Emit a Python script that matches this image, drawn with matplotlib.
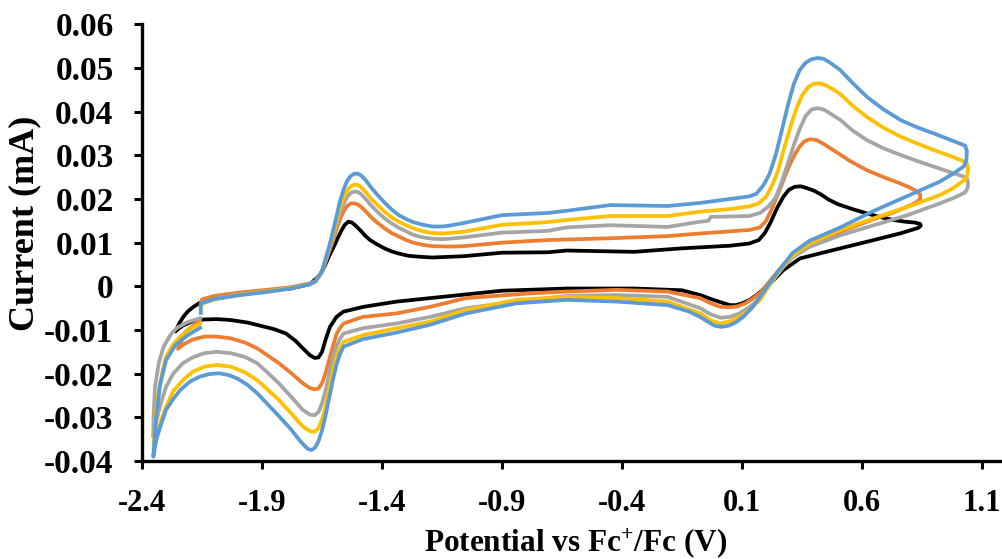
import matplotlib
matplotlib.use("Agg")
import matplotlib.pyplot as plt

# CV scans: potential (V vs Fc+/Fc) and current (mA)
black_v = [-2.26, -2.245, -2.228, -2.21, -2.186, -2.16, -2.13, -2.08, -1.99, -1.88, -1.78, -1.70,
           -1.66, -1.64, -1.62, -1.60, -1.585, -1.57, -1.555, -1.54, -1.525, -1.51, -1.49, -1.47,
           -1.45, -1.42, -1.39, -1.36, -1.33, -1.29, -1.25, -1.19, -1.06, -0.90, -0.71, -0.63,
           -0.35, -0.15, 0.05, 0.13, 0.17, 0.195, 0.217, 0.245, 0.272, 0.295, 0.32, 0.345, 0.37,
           0.40, 0.43, 0.46, 0.50, 0.56, 0.62, 0.68, 0.73, 0.78, 0.82, 0.842, 0.845, 0.835, 0.80,
           0.758, 0.62, 0.48, 0.342, 0.272, 0.24, 0.203, 0.165, 0.133, 0.10, 0.075, 0.05, 0.02,
           -0.019, -0.075, -0.15, -0.35, -0.63, -0.90, -1.20, -1.34, -1.478, -1.561, -1.59,
           -1.617, -1.635, -1.65, -1.665, -1.68, -1.70, -1.73, -1.76, -1.80, -1.85, -1.894, -1.96,
           -2.033, -2.09, -2.144, -2.19, -2.23, -2.26]
black_i = [-0.0102, -0.0085, -0.0070, -0.0058, -0.0047, -0.0038, -0.0031, -0.0023, -0.0016, -0.0010,
           -0.0005, 0.0005, 0.0025, 0.0045, 0.0070, 0.0092, 0.0110, 0.0127, 0.0141, 0.0148, 0.0146,
           0.0139, 0.0128, 0.0116, 0.0106, 0.0096, 0.0087, 0.0080, 0.0075, 0.0070, 0.0068, 0.0066,
           0.0069, 0.0077, 0.0078, 0.0082, 0.0079, 0.0087, 0.0093, 0.0098, 0.0106, 0.0122, 0.0144,
           0.0178, 0.0205, 0.0221, 0.0228, 0.0229, 0.0225, 0.0219, 0.0210, 0.0199, 0.0188, 0.0177,
           0.0167, 0.0158, 0.0152, 0.0148, 0.0146, 0.0143, 0.0139, 0.0134, 0.0128, 0.0121, 0.0102,
           0.0083, 0.0064, 0.0037, 0.0019, 0.0000, -0.0018, -0.0031, -0.0039, -0.0043, -0.0043,
           -0.0038, -0.0031, -0.0020, -0.0009, -0.0005, -0.0005, -0.0010, -0.0027, -0.0035,
           -0.0047, -0.0058, -0.0070, -0.0093, -0.0122, -0.0150, -0.0163, -0.0164, -0.0158,
           -0.0142, -0.0125, -0.0108, -0.0098, -0.0092, -0.0083, -0.0077, -0.0075, -0.0076,
           -0.0080, -0.0090, -0.0102]

orange_v = [-2.155, -2.15, -2.10, -1.99, -1.88, -1.78, -1.71, -1.68, -1.65, -1.62, -1.605, -1.59,
            -1.575, -1.56, -1.545, -1.53, -1.515, -1.50, -1.485, -1.465, -1.445, -1.42, -1.39,
            -1.36, -1.33, -1.30, -1.27, -1.23, -1.19, -1.12, -1.06, -0.90, -0.71, -0.45, -0.21,
            -0.075, 0.13, 0.175, 0.20, 0.22, 0.24, 0.26, 0.28, 0.30, 0.32, 0.34, 0.36, 0.383, 0.41,
            0.44, 0.48, 0.55, 0.62, 0.69, 0.758, 0.80, 0.83, 0.843, 0.842, 0.825, 0.80, 0.72, 0.65,
            0.51, 0.38, 0.31, 0.27, 0.22, 0.175, 0.14, 0.11, 0.08, 0.05, 0.01, -0.03, -0.075, -0.21,
            -0.42, -0.63, -0.78, -1.05, -1.20, -1.34, -1.48, -1.56, -1.575, -1.59, -1.605, -1.62,
            -1.635, -1.65, -1.665, -1.68, -1.70, -1.73, -1.78, -1.83, -1.88, -1.92, -1.97, -2.03,
            -2.09, -2.14, -2.19, -2.23, -2.25, -2.22, -2.16]
orange_i = [-0.0040, -0.0030, -0.0022, -0.0014, -0.0008, -0.0002, 0.0006, 0.0010, 0.0032, 0.0080,
            0.0103, 0.0130, 0.0153, 0.0172, 0.0184, 0.0190, 0.0190, 0.0187, 0.0181, 0.0170, 0.0158,
            0.0146, 0.0133, 0.0122, 0.0114, 0.0106, 0.0100, 0.0095, 0.0092, 0.0091, 0.0092, 0.0100,
            0.0106, 0.0110, 0.0115, 0.0121, 0.0129, 0.0135, 0.0150, 0.0172, 0.0198, 0.0225, 0.0254,
            0.0280, 0.0302, 0.0320, 0.0332, 0.0337, 0.0335, 0.0326, 0.0312, 0.0287, 0.0266, 0.0250,
            0.0236, 0.0226, 0.0217, 0.0210, 0.0200, 0.0192, 0.0185, 0.0167, 0.0154, 0.0125, 0.0095,
            0.0070, 0.0048, 0.0015, -0.0015, -0.0030, -0.0040, -0.0046, -0.0048, -0.0047, -0.0039,
            -0.0027, -0.0012, -0.0008, -0.0012, -0.0016, -0.0027, -0.0047, -0.0062, -0.0070,
            -0.0085, -0.0095, -0.0110, -0.0138, -0.0168, -0.0198, -0.0222, -0.0234, -0.0236,
            -0.0233, -0.0222, -0.0198, -0.0176, -0.0157, -0.0142, -0.0129, -0.0119, -0.0115,
            -0.0115, -0.0122, -0.0134, -0.0143, -0.0105, -0.0078]

gray_v = [-2.155, -2.15, -2.10, -1.99, -1.88, -1.78, -1.71, -1.68, -1.65, -1.62, -1.605, -1.59,
          -1.575, -1.56, -1.545, -1.53, -1.515, -1.50, -1.485, -1.465, -1.445, -1.42, -1.39, -1.36,
          -1.33, -1.30, -1.27, -1.23, -1.19, -1.15, -1.12, -1.06, -0.90, -0.71, -0.63, -0.45, -0.21,
          -0.075, -0.04, -0.03, 0.13, 0.175, 0.21, 0.24, 0.265, 0.29, 0.315, 0.34, 0.365, 0.39,
          0.415, 0.44, 0.47, 0.51, 0.56, 0.62, 0.69, 0.76, 0.83, 0.90, 0.97, 1.036, 1.042, 1.04,
          1.03, 0.98, 0.925, 0.79, 0.65, 0.51, 0.38, 0.31, 0.27, 0.22, 0.175, 0.13, 0.09, 0.05,
          0.01, -0.03, -0.075, -0.21, -0.42, -0.63, -0.84, -1.05, -1.20, -1.34, -1.48, -1.56,
          -1.575, -1.59, -1.605, -1.62, -1.635, -1.65, -1.665, -1.68, -1.70, -1.73, -1.78, -1.83,
          -1.88, -1.92, -1.97, -2.03, -2.09, -2.14, -2.19, -2.23, -2.27, -2.30, -2.32, -2.34,
          -2.353, -2.352, -2.346, -2.33, -2.31, -2.28, -2.255, -2.21, -2.158]
gray_i = [-0.0045, -0.0038, -0.0029, -0.0018, -0.0011, -0.0004, 0.0005, 0.0010, 0.0033, 0.0085,
          0.0110, 0.0140, 0.0168, 0.0189, 0.0205, 0.0214, 0.0217, 0.0216, 0.0210, 0.0198, 0.0185,
          0.0171, 0.0156, 0.0144, 0.0134, 0.0126, 0.0118, 0.0112, 0.0109, 0.0108, 0.0109, 0.0112,
          0.0123, 0.0127, 0.0135, 0.0140, 0.0136, 0.0148, 0.0150, 0.0159, 0.0161, 0.0168, 0.0183,
          0.0203, 0.0238, 0.0280, 0.0322, 0.0360, 0.0390, 0.0405, 0.0408, 0.0405, 0.0395, 0.0381,
          0.0357, 0.0335, 0.0316, 0.0301, 0.0287, 0.0274, 0.0261, 0.0249, 0.0237, 0.0225, 0.0215,
          0.0202, 0.0190, 0.0163, 0.0140, 0.0117, 0.0090, 0.0066, 0.0043, 0.0008, -0.0028, -0.0048,
          -0.0062, -0.0070, -0.0072, -0.0064, -0.0050, -0.0024, -0.0020, -0.0022, -0.0035, -0.0050,
          -0.0070, -0.0085, -0.0096, -0.0108, -0.0120, -0.0138, -0.0165, -0.0200, -0.0238,
          -0.0268, -0.0288, -0.0295, -0.0294, -0.0283, -0.0252, -0.0222, -0.0196, -0.0176,
          -0.0162, -0.0153, -0.0150, -0.0153, -0.0163, -0.0176, -0.0200, -0.0230, -0.0265,
          -0.0306, -0.0344, -0.0300, -0.0230, -0.0175, -0.0138, -0.0110, -0.0095, -0.0082,
          -0.0073]

yellow_v = [-2.155, -2.15, -2.10, -1.99, -1.88, -1.78, -1.71, -1.68, -1.65, -1.62, -1.605, -1.59,
            -1.575, -1.56, -1.545, -1.53, -1.515, -1.50, -1.485, -1.465, -1.445, -1.42, -1.39,
            -1.36, -1.33, -1.30, -1.27, -1.23, -1.19, -1.15, -1.12, -1.06, -0.90, -0.71, -0.63,
            -0.45, -0.21, -0.075, 0.05, 0.13, 0.17, 0.20, 0.225, 0.25, 0.275, 0.30, 0.325, 0.35,
            0.375, 0.40, 0.425, 0.45, 0.48, 0.51, 0.56, 0.62, 0.69, 0.76, 0.83, 0.90, 0.97, 1.035,
            1.042, 1.04, 1.03, 0.98, 0.925, 0.79, 0.65, 0.51, 0.38, 0.31, 0.27, 0.22, 0.175, 0.13,
            0.09, 0.05, 0.01, -0.03, -0.075, -0.21, -0.42, -0.63, -0.84, -1.05, -1.20, -1.34, -1.48,
            -1.56, -1.575, -1.59, -1.605, -1.62, -1.635, -1.65, -1.665, -1.68, -1.70, -1.73, -1.78,
            -1.83, -1.88, -1.92, -1.97, -2.03, -2.09, -2.14, -2.19, -2.23, -2.27, -2.30, -2.32,
            -2.34, -2.35, -2.345, -2.332, -2.315, -2.30, -2.27, -2.24, -2.20, -2.158]
yellow_i = [-0.0050, -0.0040, -0.0030, -0.0019, -0.0012, -0.0004, 0.0005, 0.0010, 0.0035, 0.0090,
            0.0118, 0.0150, 0.0180, 0.0203, 0.0220, 0.0229, 0.0233, 0.0232, 0.0226, 0.0214, 0.0200,
            0.0187, 0.0171, 0.0158, 0.0148, 0.0140, 0.0133, 0.0126, 0.0122, 0.0121, 0.0122, 0.0125,
            0.0141, 0.0147, 0.0152, 0.0161, 0.0161, 0.0171, 0.0177, 0.0183, 0.0190, 0.0205, 0.0230,
            0.0265, 0.0315, 0.0362, 0.0405, 0.0437, 0.0456, 0.0464, 0.0465, 0.0460, 0.0451, 0.0440,
            0.0414, 0.0388, 0.0363, 0.0343, 0.0327, 0.0312, 0.0298, 0.0284, 0.0272, 0.0258, 0.0245,
            0.0225, 0.0209, 0.0182, 0.0156, 0.0129, 0.0097, 0.0070, 0.0045, 0.0008, -0.0031,
            -0.0055, -0.0070, -0.0080, -0.0085, -0.0078, -0.0062, -0.0035, -0.0027, -0.0024,
            -0.0031, -0.0054, -0.0081, -0.0096, -0.0112, -0.0127, -0.0142, -0.0163, -0.0195,
            -0.0235, -0.0275, -0.0305, -0.0325, -0.0333, -0.0332, -0.0321, -0.0290, -0.0260,
            -0.0235, -0.0215, -0.0197, -0.0184, -0.0180, -0.0184, -0.0196, -0.0215, -0.0240,
            -0.0276, -0.0305, -0.0344, -0.0360, -0.0300, -0.0245, -0.0195, -0.0161, -0.0133,
            -0.0115, -0.0098, -0.0085]

blue_v = [-2.155, -2.155, -2.10, -1.99, -1.88, -1.78, -1.71, -1.68, -1.65, -1.62, -1.605, -1.59,
          -1.575, -1.56, -1.545, -1.53, -1.515, -1.50, -1.485, -1.465, -1.445, -1.42, -1.39, -1.36,
          -1.33, -1.30, -1.27, -1.23, -1.19, -1.15, -1.12, -1.06, -0.90, -0.71, -0.63, -0.45, -0.21,
          -0.075, 0.05, 0.13, 0.16, 0.19, 0.215, 0.24, 0.265, 0.29, 0.315, 0.34, 0.365, 0.39,
          0.415, 0.44, 0.47, 0.51, 0.56, 0.62, 0.69, 0.76, 0.83, 0.90, 0.97, 1.03, 1.037, 1.035,
          1.025, 0.98, 0.925, 0.79, 0.65, 0.51, 0.38, 0.31, 0.245, 0.175, 0.14, 0.105, 0.075,
          0.045, 0.015, -0.015, -0.045, -0.075, -0.12, -0.21, -0.42, -0.63, -0.84, -1.05, -1.20,
          -1.34, -1.48, -1.56, -1.575, -1.59, -1.605, -1.62, -1.635, -1.65, -1.665, -1.68, -1.695,
          -1.71, -1.74, -1.78, -1.83, -1.88, -1.92, -1.96, -2.00, -2.04, -2.08, -2.12, -2.16,
          -2.20, -2.24, -2.27, -2.30, -2.32, -2.34, -2.353, -2.342, -2.325, -2.30, -2.26, -2.21,
          -2.158]
blue_i = [-0.0061, -0.0039, -0.0029, -0.0020, -0.0013, -0.0005, 0.0004, 0.0010, 0.0035, 0.0092,
          0.0125, 0.0160, 0.0195, 0.0222, 0.0242, 0.0253, 0.0258, 0.0258, 0.0253, 0.0241, 0.0226,
          0.0210, 0.0192, 0.0176, 0.0163, 0.0154, 0.0147, 0.0141, 0.0137, 0.0137, 0.0139, 0.0145,
          0.0163, 0.0168, 0.0173, 0.0186, 0.0184, 0.0191, 0.0200, 0.0206, 0.0212, 0.0232, 0.0258,
          0.0300, 0.0355, 0.0412, 0.0462, 0.0495, 0.0512, 0.0520, 0.0523, 0.0521, 0.0511, 0.0495,
          0.0466, 0.0434, 0.0405, 0.0381, 0.0364, 0.0350, 0.0335, 0.0322, 0.0310, 0.0290, 0.0275,
          0.0258, 0.0240, 0.0207, 0.0173, 0.0135, 0.0104, 0.0076, 0.0030, -0.0024, -0.0050,
          -0.0070, -0.0082, -0.0090, -0.0093, -0.0090, -0.0080, -0.0070, -0.0058, -0.0043,
          -0.0035, -0.0031, -0.0039, -0.0062, -0.0088, -0.0106, -0.0121, -0.0138, -0.0155,
          -0.0180, -0.0215, -0.0255, -0.0295, -0.0330, -0.0355, -0.0370, -0.0375, -0.0372,
          -0.0355, -0.0327, -0.0297, -0.0268, -0.0245, -0.0226, -0.0212, -0.0203, -0.0199,
          -0.0201, -0.0207, -0.0218, -0.0237, -0.0258, -0.0283, -0.0315, -0.0350, -0.0390,
          -0.0306, -0.0226, -0.0169, -0.0134, -0.0112, -0.0095]

x_ticks = [-2.4, -1.9, -1.4, -0.9, -0.4, 0.1, 0.6, 1.1]
y_ticks = [-0.04, -0.03, -0.02, -0.01, 0, 0.01, 0.02, 0.03, 0.04, 0.05, 0.06]
y_labels = ['-0.04', '-0.03', '-0.02', '-0.01', '0', '0.01', '0.02', '0.03', '0.04', '0.05', '0.06']

plt.rcParams['font.family'] = ['Liberation Serif', 'DejaVu Serif']
plt.rcParams['font.weight'] = 'bold'
plt.rcParams['mathtext.fontset'] = 'custom'
plt.rcParams['mathtext.rm'] = 'Liberation Serif:bold'
plt.rcParams['mathtext.default'] = 'rm'

fig = plt.figure(figsize=(10.03, 5.59), dpi=100)
ax = fig.add_axes([0.1416, 0.1753, 0.8584, 0.7812])

lw = 2.7
ax.plot(black_v, black_i, color='black', lw=lw)
ax.plot(orange_v, orange_i, color='#ED7D31', lw=lw)
ax.plot(gray_v, gray_i, color='#A5A5A5', lw=lw)
ax.plot(yellow_v, yellow_i, color='#FFC000', lw=lw)
ax.plot(blue_v, blue_i, color='#5B9BD5', lw=lw)

ax.set_xlim(-2.4, 1.1875)
ax.set_ylim(-0.04, 0.06)
ax.set_xticks(x_ticks)
ax.set_xticklabels([f'{t:.1f}' for t in x_ticks])
ax.set_yticks(y_ticks)
ax.set_yticklabels(y_labels)

for s in ['top', 'right']:
    ax.spines[s].set_visible(False)
for s in ['left', 'bottom']:
    ax.spines[s].set_linewidth(2.4)
ax.tick_params(direction='out', length=5.5, width=2.2)
ax.tick_params(axis='x', labelsize=22, pad=15)
ax.tick_params(axis='y', labelsize=24, pad=15)

ax.set_xlabel('Potential vs Fc$^{+}$/Fc (V)', fontsize=22.5, fontweight='bold', va='baseline')
ax.set_ylabel('Current (mA)', fontsize=26, fontweight='bold', va='center')
ax.xaxis.set_label_coords(0.503, -0.206)
ax.yaxis.set_label_coords(-0.1365, 0.545)

fig.savefig('out.png', dpi=100)
